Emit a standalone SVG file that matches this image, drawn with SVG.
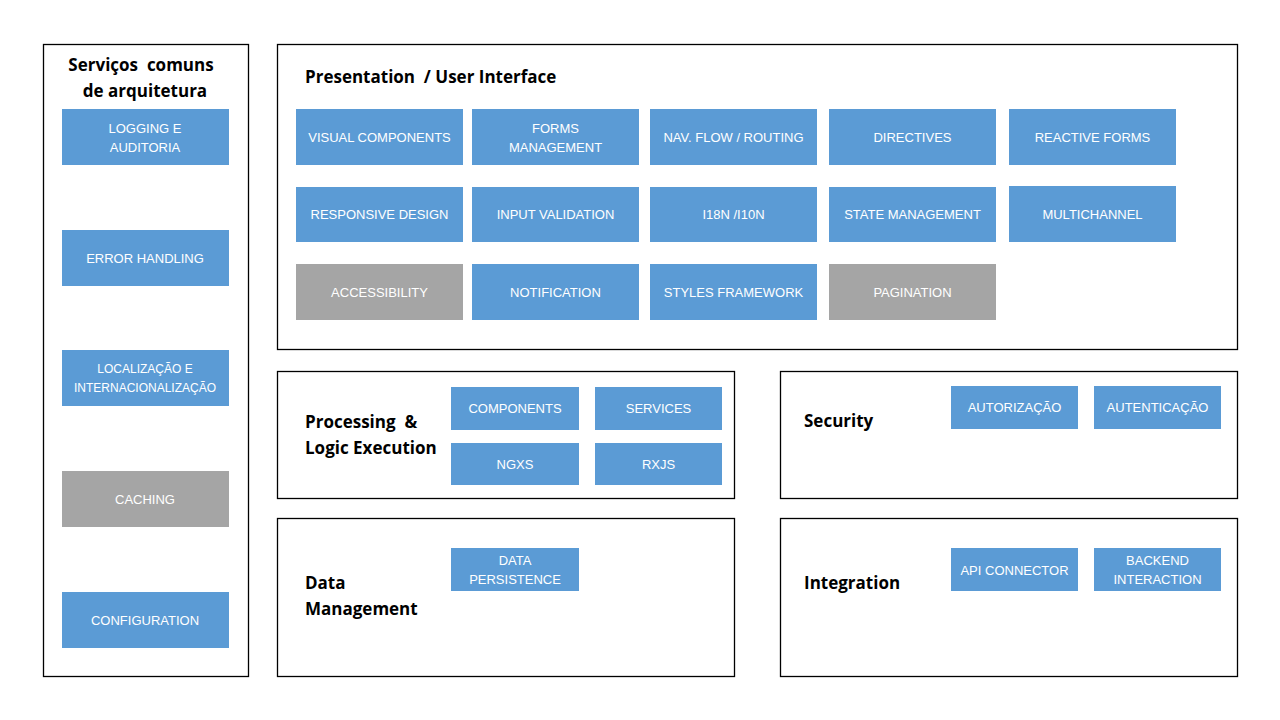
<svg xmlns="http://www.w3.org/2000/svg" width="1280" height="720" viewBox="0 0 1280 720">
<style>
.panel{fill:#fff;stroke:#000;stroke-width:1.3}
.b{fill:#5B9BD5}
.g{fill:#A5A5A5}
.t{font-family:"Liberation Sans",Arial,sans-serif;font-size:13px;fill:#fff;text-anchor:middle}
.h{font-family:"Open Sans","Liberation Sans",sans-serif;font-size:17px;font-weight:bold;fill:#000;white-space:pre}
</style>
<rect width="1280" height="720" fill="#fff"/>
<g id="common">
<rect class="panel" x="43.5" y="44.5" width="205" height="632"/>
<text class="h" x="141" y="71" text-anchor="middle" xml:space="preserve">Serviços  comuns</text>
<text class="h" x="145" y="97" text-anchor="middle">de arquitetura</text>
<g id="logging"><rect class="b" x="62" y="109" width="167" height="56"/><text class="t" x="145" y="133">LOGGING E</text><text class="t" x="145" y="152">AUDITORIA</text></g>
<g id="error"><rect class="b" x="62" y="230" width="167" height="56"/><text class="t" x="145" y="263">ERROR HANDLING</text></g>
<g id="l10n"><rect class="b" x="62" y="350" width="167" height="56"/><text class="t" x="145" y="373" style="font-size:12px">LOCALIZAÇÃO E</text><text class="t" x="145" y="392" style="font-size:12px">INTERNACIONALIZAÇÃO</text></g>
<g id="caching"><rect class="g" x="62" y="471" width="167" height="56"/><text class="t" x="145" y="504">CACHING</text></g>
<g id="config"><rect class="b" x="62" y="592" width="167" height="56"/><text class="t" x="145" y="625">CONFIGURATION</text></g>
</g>
<g id="presentation">
<rect class="panel" x="277.5" y="44.5" width="960" height="305"/>
<text class="h" x="305" y="83" xml:space="preserve">Presentation  / User Interface</text>
<g id="visual"><rect class="b" x="296" y="109" width="167" height="56"/><text class="t" x="379.5" y="142">VISUAL COMPONENTS</text></g>
<g id="forms"><rect class="b" x="472" y="109" width="167" height="56"/><text class="t" x="555.5" y="133">FORMS</text><text class="t" x="555.5" y="152">MANAGEMENT</text></g>
<g id="nav"><rect class="b" x="650" y="109" width="167" height="56"/><text class="t" x="733.5" y="142">NAV. FLOW / ROUTING</text></g>
<g id="directives"><rect class="b" x="829" y="109" width="167" height="56"/><text class="t" x="912.5" y="142">DIRECTIVES</text></g>
<g id="reactive"><rect class="b" x="1009" y="109" width="167" height="56"/><text class="t" x="1092.5" y="142">REACTIVE FORMS</text></g>
<g id="responsive"><rect class="b" x="296" y="187" width="167" height="55"/><text class="t" x="379.5" y="219">RESPONSIVE DESIGN</text></g>
<g id="input"><rect class="b" x="472" y="187" width="167" height="55"/><text class="t" x="555.5" y="219">INPUT VALIDATION</text></g>
<g id="i18n"><rect class="b" x="650" y="187" width="167" height="55"/><text class="t" x="733.5" y="219">I18N /I10N</text></g>
<g id="state"><rect class="b" x="829" y="187" width="167" height="55"/><text class="t" x="912.5" y="219">STATE MANAGEMENT</text></g>
<g id="multichannel"><rect class="b" x="1009" y="186" width="167" height="56"/><text class="t" x="1092.5" y="219">MULTICHANNEL</text></g>
<g id="accessibility"><rect class="g" x="296" y="264" width="167" height="56"/><text class="t" x="379.5" y="297">ACCESSIBILITY</text></g>
<g id="notification"><rect class="b" x="472" y="264" width="167" height="56"/><text class="t" x="555.5" y="297">NOTIFICATION</text></g>
<g id="styles"><rect class="b" x="650" y="264" width="167" height="56"/><text class="t" x="733.5" y="297">STYLES FRAMEWORK</text></g>
<g id="pagination"><rect class="g" x="829" y="264" width="167" height="56"/><text class="t" x="912.5" y="297">PAGINATION</text></g>
</g>
<g id="processing">
<rect class="panel" x="277.5" y="371.5" width="457" height="127"/>
<text class="h" x="305" y="428" xml:space="preserve">Processing  &amp;</text>
<text class="h" x="305" y="454">Logic Execution</text>
<g id="components"><rect class="b" x="451" y="387" width="128" height="43"/><text class="t" x="515" y="413">COMPONENTS</text></g>
<g id="services"><rect class="b" x="595" y="387" width="127" height="43"/><text class="t" x="658.5" y="413">SERVICES</text></g>
<g id="ngxs"><rect class="b" x="451" y="443" width="128" height="42"/><text class="t" x="515" y="469">NGXS</text></g>
<g id="rxjs"><rect class="b" x="595" y="443" width="127" height="42"/><text class="t" x="658.5" y="469">RXJS</text></g>
</g>
<g id="security">
<rect class="panel" x="780.5" y="371.5" width="457" height="127"/>
<text class="h" x="804" y="427">Security</text>
<g id="autorizacao"><rect class="b" x="951" y="386" width="127" height="43"/><text class="t" x="1014.5" y="412">AUTORIZAÇÃO</text></g>
<g id="autenticacao"><rect class="b" x="1094" y="386" width="127" height="43"/><text class="t" x="1157.5" y="412">AUTENTICAÇÃO</text></g>
</g>
<g id="data">
<rect class="panel" x="277.5" y="518.5" width="457" height="158"/>
<text class="h" x="305" y="589">Data</text>
<text class="h" x="305" y="615">Management</text>
<g id="persistence"><rect class="b" x="451" y="548" width="128" height="43"/><text class="t" x="515" y="565">DATA</text><text class="t" x="515" y="584">PERSISTENCE</text></g>
</g>
<g id="integration">
<rect class="panel" x="780.5" y="518.5" width="457" height="158"/>
<text class="h" x="804" y="589">Integration</text>
<g id="api"><rect class="b" x="951" y="548" width="127" height="43"/><text class="t" x="1014.5" y="575">API CONNECTOR</text></g>
<g id="backend"><rect class="b" x="1094" y="548" width="127" height="43"/><text class="t" x="1157.5" y="565">BACKEND</text><text class="t" x="1157.5" y="584">INTERACTION</text></g>
</g>
<g id="connectors"/>
</svg>
